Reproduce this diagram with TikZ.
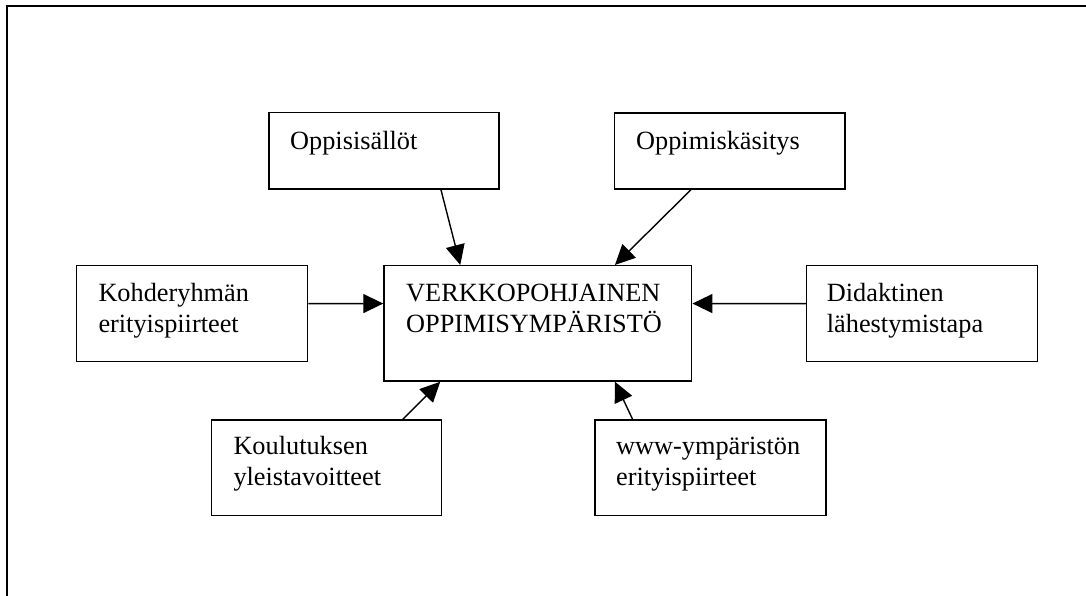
\documentclass[tikz,border=0pt]{standalone}
\usepackage{fontspec}
\setmainfont{Liberation Serif}
\usetikzlibrary{arrows.meta}
\begin{document}
\begin{tikzpicture}[x=1pt,y=-1pt,
  frame/.style={line width=2.6pt},
  box/.style={draw,line width=1.5pt,rectangle,inner sep=0pt},
  txt/.style={anchor=base west,inner sep=0pt,
    font=\fontsize{26.3pt}{31pt}\selectfont},
  arr/.style={line width=1.4pt,-{Triangle[length=20pt,width=19pt]}}]
\useasboundingbox (0,0) rectangle (1086,596);
\begin{scope}
\clip (0,0) rectangle (1086,596);
\draw[frame] (7,6) rectangle (1200,700);
\end{scope}

% boxes
\node[box,minimum width=230pt,minimum height=76.3pt] (opl) at (384,150.85) {};
\node[box,minimum width=230.7pt,minimum height=76pt] (okas) at (729.65,151) {};
\node[box,minimum width=307.7pt,minimum height=115.3pt] (ymp) at (537.85,323.35) {};
\node[box,minimum width=231pt,minimum height=96pt] (koh) at (192.2,313.7) {};
\node[box,minimum width=230.6pt,minimum height=96pt] (did) at (922,313.7) {};
\node[box,minimum width=230pt,minimum height=95.7pt] (kou) at (326.7,467.85) {};
\node[box,minimum width=231pt,minimum height=95.7pt] (www) at (710.5,467.85) {};

% texts
\node[txt] (topl) at (290,149.3) {\parbox[t]{200pt}{Oppisisällöt}};
\node[txt] (tokas) at (636,149.3) {\parbox[t]{200pt}{Oppimiskäsitys}};
\node[txt] (tymp) at (406,301.7) {\parbox[t]{290pt}{VERKKOPOHJAINEN\\OPPIMISYMPÄRISTÖ}};
\node[txt] (tkoh) at (98.3,301.7) {\parbox[t]{200pt}{Kohderyhmän\\erityispiirteet}};
\node[txt] (tdid) at (826.7,301.7) {\parbox[t]{200pt}{Didaktinen\\lähestymistapa}};
\node[txt] (tkou) at (233.3,454.5) {\parbox[t]{200pt}{Koulutuksen\\yleistavoitteet}};
\node[txt] (twww) at (616,454.5) {\parbox[t]{200pt}{www-ympäristön\\erityispiirteet}};

% connectors
\draw[arr] ([xshift=172.7pt]opl.south west) -- ([xshift=77pt]ymp.north west);
\draw[arr] ([xshift=77.4pt]okas.south west) -- ([xshift=231.7pt]ymp.north west);
\draw[arr] ([yshift=-38.6pt]koh.north east) -- ([yshift=-38.6pt]ymp.north west);
\draw[arr] ([yshift=-38.6pt]did.north west) -- ([yshift=-38.6pt]ymp.north east);
\draw[arr] ([xshift=192pt]kou.north west) -- ([xshift=57pt]ymp.south west);
\draw[arr] ([xshift=38.3pt]www.north west) -- ([xshift=231.7pt]ymp.south west);
\end{tikzpicture}
\end{document}
